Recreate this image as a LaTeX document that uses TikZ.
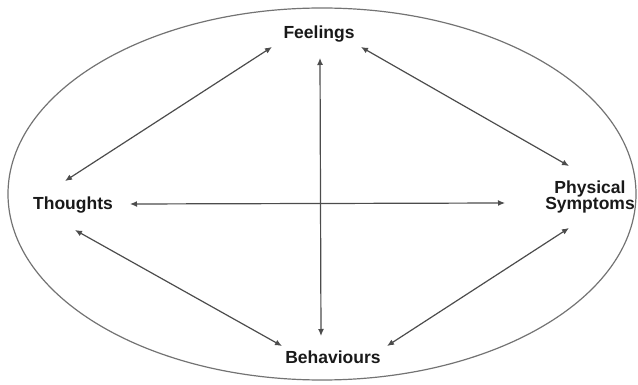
\documentclass[tikz,border=0pt]{standalone}
\usepackage{fontspec}
\setmainfont{Liberation Sans}
\usetikzlibrary{arrows.meta,calc,shapes.geometric}
\begin{document}
\begin{tikzpicture}[x=1pt,y=-1pt,
  lbl/.style={font=\fontsize{17.5}{18}\selectfont\bfseries, text=black!90, inner sep=0pt, align=center},
  arr/.style={draw=black!70, line width=1.2pt, {Latex[length=7pt,width=6pt]}-{Latex[length=7pt,width=6pt]}}]
\useasboundingbox (0,0) rectangle (638,385);
\node[draw=black!55, line width=1.2pt, ellipse, minimum width=628pt, minimum height=372pt, inner sep=0pt] (e) at (322,194) {};
\node[lbl] (f) at (319,34) {Feelings};
\node[lbl] (t) at (73,205) {Thoughts};
\node[lbl] (p) at (590,197) {Physical\\[-2pt]Symptoms};
\node[lbl] (b) at (333,357) {Behaviours};
\draw[arr] ($(f)+(-47,13)$) -- ($(t)+(-8,-24)$);
\draw[arr] ($(f)+(42,13)$) -- ($(p)+(-21,-31)$);
\draw[arr] ($(f)+(1,24)$) -- ($(b)+(-12,-21)$);
\draw[arr] ($(t)+(57,-1)$) -- ($(p)+(-85,6)$);
\draw[arr] ($(t)+(2,25)$) -- ($(b)+(-51,-11)$);
\draw[arr] ($(b)+(54,-11)$) -- ($(p)+(-21,31)$);
\end{tikzpicture}
\end{document}
